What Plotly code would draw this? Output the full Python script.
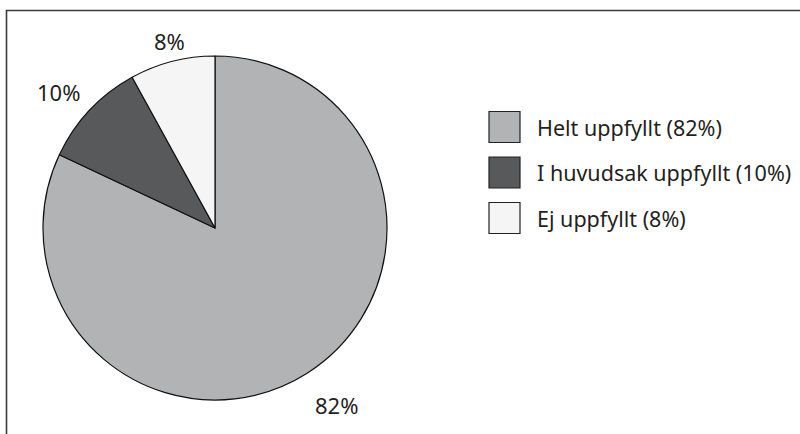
import math
import plotly.graph_objects as go

# ---- data ----
categories = ["Helt uppfyllt", "I huvudsak uppfyllt", "Ej uppfyllt"]
values = [82, 10, 8]
slice_labels = ["82%", "10%", "8%"]
legend_labels = ["Helt uppfyllt (82%)", "I huvudsak uppfyllt (10%)", "Ej uppfyllt (8%)"]
colors = ["#b2b3b4", "#58595b", "#f4f5f4"]

# ---- layout constants (pixels, in page coordinates) ----
W, H = 800, 434
CX, CY, R = 215, 228, 172
FONT = "Noto Sans"
TXT = "#231f20"


def px(x):
    return x / W


def py(y):
    return 1 - y / H


fig = go.Figure()
fig.add_trace(go.Pie(
    labels=categories,
    values=values,
    sort=False,
    direction="clockwise",
    rotation=0,
    textinfo="none",
    hoverinfo="label+percent",
    marker=dict(colors=colors, line=dict(color="#111111", width=1.2)),
    domain=dict(x=[px(CX - R), px(CX + R)], y=[py(CY + R), py(CY - R)]),
    showlegend=False,
))

annotations = []
# percent labels placed just outside each slice at its mid-angle
total = sum(values)
cum = 0
for v, lab in zip(values, slice_labels):
    mid = (cum + v / 2) / total * 2 * math.pi
    cum += v
    s, c = math.sin(mid), math.cos(mid)
    rr = R + 10
    x = CX + rr * s
    y = CY - rr * c
    xa = "left" if s > 0.5 else ("right" if s < -0.5 else "center")
    ya = "bottom" if c > 0.5 else ("top" if c < -0.5 else "middle")
    annotations.append(dict(
        x=px(x), y=py(y), xref="paper", yref="paper", text=lab,
        showarrow=False, xanchor=xa, yanchor=ya, yshift=-6,
        font=dict(family=FONT, size=22, color=TXT),
    ))

# manual legend
shapes = []
LX, LY0, LDY, SQ = 489, 127, 45.5, 31
for i, (lab, col) in enumerate(zip(legend_labels, colors)):
    yc = LY0 + i * LDY
    shapes.append(dict(
        type="rect", xref="paper", yref="paper",
        x0=px(LX), x1=px(LX + SQ), y0=py(yc + SQ / 2), y1=py(yc - SQ / 2),
        fillcolor=col, line=dict(color="#222222", width=1.2),
    ))
    annotations.append(dict(
        x=px(535), y=py(yc), xref="paper", yref="paper", text=lab,
        showarrow=False, xanchor="left", yanchor="middle",
        font=dict(family=FONT, size=21.5, color=TXT),
    ))

# outer frame
shapes.append(dict(
    type="rect", xref="paper", yref="paper",
    x0=px(6.5), x1=1.05, y0=-0.05, y1=py(10.5),
    line=dict(color="#3a3a3a", width=1.6), fillcolor="rgba(0,0,0,0)",
))

fig.update_layout(
    width=W, height=H,
    margin=dict(l=0, r=0, t=0, b=0),
    paper_bgcolor="white", plot_bgcolor="white",
    shapes=shapes, annotations=annotations,
    font=dict(family=FONT, color=TXT),
)

fig.write_html(
    "out.html",
    config={"displayModeBar": False},
    post_script="document.body.style.margin='0';document.body.style.overflow='hidden';",
)
